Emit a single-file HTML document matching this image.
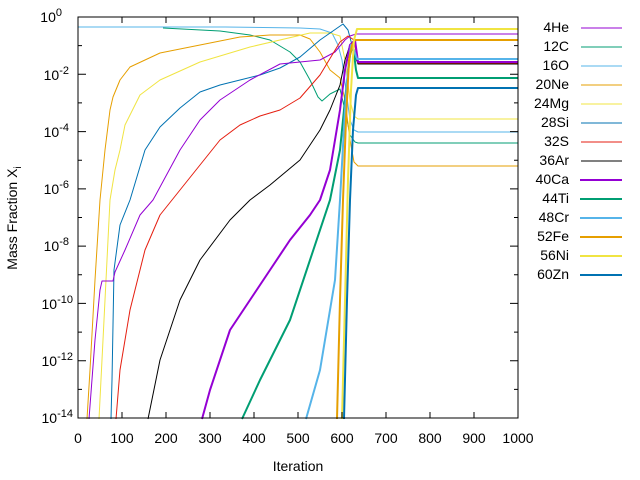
<!DOCTYPE html>
<html><head><meta charset="utf-8"><style>
body{margin:0;background:#fff}
svg{display:block;font-family:"Liberation Sans",sans-serif;font-size:13px}
</style></head><body>
<svg width="640" height="480" viewBox="0 0 640 480">
<g fill="none" stroke-linejoin="round">
<!-- thin -->
<polyline stroke="#56b4e9" stroke-width="1" points="78,27 225,27 300,28 320,29 332,33 338,45 342,60 346,90 350,120 354,130 358,132 518,132"/>
<polyline stroke="#009e73" stroke-width="1" points="163,28 220,31 250,35 270,40 290,52 300,62 310,80 318,97 322,101 330,94 340,89 345,110 350,135 355,142 358,143 518,143"/>
<polyline stroke="#e69f00" stroke-width="1" points="87,419 90,370 95,280 100,200 105,150 110,110 113,97 120,80 130,67 160,53 200,45 240,37 270,35 300,35 310,39 320,52 330,70 340,78 345,100 350,140 354,162 358,166 518,166"/>
<polyline stroke="#f0e442" stroke-width="1" points="99,419 103,340 107,260 110,200 115,170 120,150 125,125 140,95 160,80 200,62 250,47 310,33 330,33 340,36 345,60 350,100 354,116 358,119 518,119"/>
<polyline stroke="#0072b2" stroke-width="1" points="111,419 112,380 114,270 120,225 130,200 145,150 160,127 180,108 200,92 220,85 240,80 260,75 280,68 300,57 320,40 343,24 348,30 352,45 355,58 358,62 518,62"/>
<polyline stroke="#9400d3" stroke-width="1" points="89,419 95,340 100,290 102,281 113,281 115,272 125,250 140,215 153,200 180,150 200,120 220,100 250,80 280,64 300,62 320,60 335,52 345,40 350,36 356,34 518,34"/>
<polyline stroke="#e51e10" stroke-width="1" points="116,419 120,370 130,310 145,250 160,215 180,190 200,165 220,140 240,125 260,116 280,110 300,98 320,75 340,42 348,36 354,40 358,63 518,63"/>
<polyline stroke="#000" stroke-width="1" points="148,419 160,360 180,300 200,260 230,220 250,200 270,185 300,160 320,130 330,110 340,85 345,60 350,45 355,55 358,64 518,64"/>
<!-- thick -->
<polyline stroke="#9400d3" stroke-width="2" points="202,419 210,390 230,330 250,300 270,270 290,240 310,215 320,200 330,170 340,110 345,70 350,45 355,40 358,62 518,62"/>
<polyline stroke="#009e73" stroke-width="2" points="242,419 260,380 290,320 310,260 330,200 340,150 345,100 350,55 353,45 356,70 358,78 518,78"/>
<polyline stroke="#56b4e9" stroke-width="2" points="306,419 320,370 335,280 340,200 345,110 348,70 351,45 354,50 357,59 518,59"/>
<polyline stroke="#e69f00" stroke-width="2" points="337,419 340,300 343,200 346,120 349,60 352,45 355,40 518,40"/>
<polyline stroke="#f0e442" stroke-width="2" points="342,419 345,300 348,180 351,90 354,40 357,29 518,29"/>
<polyline stroke="#0072b2" stroke-width="2" points="344,419 347,300 350,200 353,130 356,95 358,88 518,88"/>
</g>
<!-- axes -->
<rect x="78" y="17" width="440" height="401" fill="none" stroke="#000" stroke-width="1"/>
<g stroke="#000" stroke-width="1">
<path d="M122,418v-6M166,418v-6M210,418v-6M254,418v-6M298,418v-6M342,418v-6M386,418v-6M430,418v-6M474,418v-6
M122,17v6M166,17v6M210,17v6M254,17v6M298,17v6M342,17v6M386,17v6M430,17v6M474,17v6
M78,74.3h8M78,131.6h8M78,188.9h8M78,246.1h8M78,303.4h8M78,360.7h8
M78,45.6h4M78,102.9h4M78,160.2h4M78,217.5h4M78,274.8h4M78,332.1h4M78,389.4h4
M518,74.3h-8M518,131.6h-8M518,188.9h-8M518,246.1h-8M518,303.4h-8M518,360.7h-8
M518,45.6h-4M518,102.9h-4M518,160.2h-4M518,217.5h-4M518,274.8h-4M518,332.1h-4M518,389.4h-4"/>
</g>
<g text-anchor="middle" font-size="14">
<text x="78" y="443">0</text><text x="122" y="443">100</text><text x="166" y="443">200</text><text x="210" y="443">300</text><text x="254" y="443">400</text><text x="298" y="443">500</text><text x="342" y="443">600</text><text x="386" y="443">700</text><text x="430" y="443">800</text><text x="474" y="443">900</text><text x="518" y="443">1000</text>
</g>
<text x="298" y="471" text-anchor="middle" font-size="14">Iteration</text>
<g text-anchor="end" font-size="14">
<text x="62" y="22">10<tspan dy="-6" font-size="11">0</tspan></text>
<text x="69" y="80">10<tspan dy="-6" font-size="11">-2</tspan></text>
<text x="69" y="137">10<tspan dy="-6" font-size="11">-4</tspan></text>
<text x="69" y="194">10<tspan dy="-6" font-size="11">-6</tspan></text>
<text x="69" y="251">10<tspan dy="-6" font-size="11">-8</tspan></text>
<text x="73" y="309">10<tspan dy="-6" font-size="11">-10</tspan></text>
<text x="73" y="366">10<tspan dy="-6" font-size="11">-12</tspan></text>
<text x="73" y="423">10<tspan dy="-6" font-size="11">-14</tspan></text>
</g>
<text transform="translate(17,218) rotate(-90)" text-anchor="middle" font-size="14">Mass Fraction X<tspan dy="4" font-size="10">i</tspan></text>
<!-- legend -->
<g text-anchor="end" font-size="14">
<text x="569" y="32">4He</text><text x="569" y="51">12C</text><text x="569" y="70">16O</text><text x="569" y="89">20Ne</text><text x="569" y="108">24Mg</text><text x="569" y="127">28Si</text><text x="569" y="146">32S</text><text x="569" y="165">36Ar</text><text x="569" y="184">40Ca</text><text x="569" y="203">44Ti</text><text x="569" y="222">48Cr</text><text x="569" y="241">52Fe</text><text x="569" y="260">56Ni</text><text x="569" y="279">60Zn</text>
</g>
<g stroke-width="1">
<line x1="581" y1="28" x2="622" y2="28" stroke="#9400d3"/>
<line x1="581" y1="47" x2="622" y2="47" stroke="#009e73"/>
<line x1="581" y1="66" x2="622" y2="66" stroke="#56b4e9"/>
<line x1="581" y1="85" x2="622" y2="85" stroke="#e69f00"/>
<line x1="581" y1="104" x2="622" y2="104" stroke="#f0e442"/>
<line x1="581" y1="123" x2="622" y2="123" stroke="#0072b2"/>
<line x1="581" y1="142" x2="622" y2="142" stroke="#e51e10"/>
<line x1="581" y1="161" x2="622" y2="161" stroke="#000"/>
</g>
<g stroke-width="2">
<line x1="580" y1="180" x2="622" y2="180" stroke="#9400d3"/>
<line x1="580" y1="199" x2="622" y2="199" stroke="#009e73"/>
<line x1="580" y1="218" x2="622" y2="218" stroke="#56b4e9"/>
<line x1="580" y1="237" x2="622" y2="237" stroke="#e69f00"/>
<line x1="580" y1="256" x2="622" y2="256" stroke="#f0e442"/>
<line x1="580" y1="275" x2="622" y2="275" stroke="#0072b2"/>
</g>
</svg>
</body></html>
